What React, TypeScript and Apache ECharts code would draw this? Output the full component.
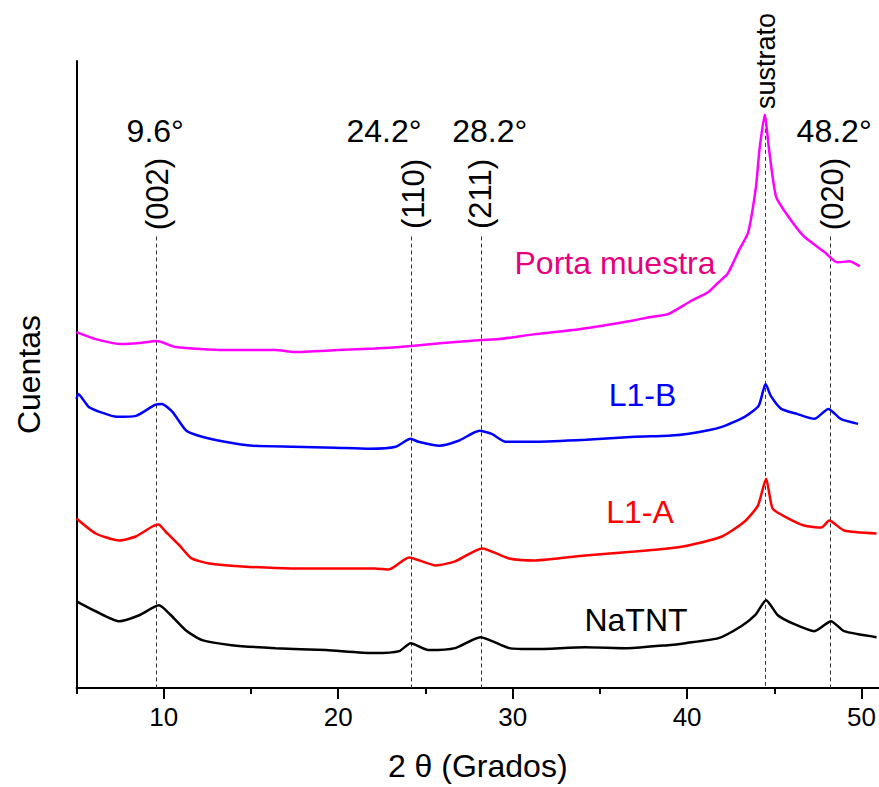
import React, { useEffect, useRef } from "react";
import * as echarts from "echarts";

// 2θ (degrees) vs counts (arbitrary, offset traces)
const portaMuestra: [number, number][] = [
  [5.0, 357], [6.1, 350], [7.6, 345], [8.6, 346], [9.6, 348], [10.7, 342], [13.5, 339],
  [16.4, 339], [17.5, 337], [20.0, 339], [22.1, 340.5], [24.2, 343], [26.0, 346],
  [28.2, 349], [29.2, 350], [31.3, 355], [33.8, 360], [37.0, 369], [37.8, 372],
  [38.9, 375], [40.2, 388], [41.2, 397], [41.8, 407], [42.3, 415], [42.6, 425],
  [43.0, 440], [43.5, 457], [43.95, 503], [44.15, 540], [44.45, 575], [44.7, 540],
  [45.1, 493], [45.8, 473], [46.7, 453], [47.9, 437], [48.6, 427], [49.3, 428], [49.9, 423],
];
const l1B: [number, number][] = [
  [5.0, 290], [5.1, 295], [5.7, 282], [6.5, 276], [7.3, 272], [8.4, 273], [9.5, 284],
  [9.9, 285], [10.5, 277], [11.3, 258], [12.2, 252], [13.5, 247], [15.1, 243],
  [17.4, 242], [19.8, 241], [21.8, 240], [23.3, 242], [24.15, 250], [24.6, 247],
  [25.8, 243], [26.9, 248], [28.1, 258], [28.8, 255], [29.6, 247], [31.3, 247],
  [34.2, 249], [37.0, 252], [38.9, 253], [40.1, 255], [42.0, 262], [43.3, 272],
  [44.1, 283], [44.5, 305], [44.8, 293], [45.4, 280], [46.3, 275], [47.3, 270],
  [48.1, 280], [48.8, 270], [49.8, 265],
];
const l1A: [number, number][] = [
  [5.0, 170], [6.1, 155], [7.45, 148], [8.4, 152], [9.35, 162], [9.7, 164], [10.1, 157],
  [10.9, 143], [11.6, 130], [12.6, 125], [14.5, 122], [17.35, 120], [22.1, 120],
  [22.9, 119], [24.06, 131], [25.6, 123], [26.7, 127], [28.25, 140], [29.8, 130],
  [31.3, 128], [34.15, 133], [37.0, 137], [38.9, 140], [40.06, 143], [42.0, 152],
  [43.3, 167], [44.06, 183], [44.53, 210], [44.9, 180], [45.6, 172], [46.7, 163],
  [47.7, 161], [48.15, 168], [49.0, 158], [50.86, 155],
];
const naTNT: [number, number][] = [
  [5.0, 87], [6.1, 77], [7.45, 67], [8.6, 73], [9.73, 83], [10.3, 75], [11.26, 58],
  [12.2, 48], [13.9, 43], [16.4, 40], [19.3, 38], [22.1, 35], [23.5, 37], [24.15, 45],
  [25.2, 38], [26.7, 40], [28.15, 51], [29.8, 40], [31.3, 39], [34.15, 41], [36.6, 40],
  [38.9, 43], [39.9, 45], [41.8, 50], [43.1, 62], [43.9, 73], [44.53, 88], [45.2, 73],
  [46.15, 64], [47.3, 57], [48.25, 67], [49.0, 57], [50.86, 51],
];

const seriesNames = ["Porta muestra", "L1-B", "L1-A", "NaTNT"];
const seriesColors = ["#FF00FF", "#0000FF", "#FF0000", "#000000"];
const labelColors = ["#E6007E", "#0000FF", "#FF0000", "#000000"];

const peakAngles = [9.6, 24.2, 28.2, 48.2];
const peakAngleLabels = ["9.6°", "24.2°", "28.2°", "48.2°"];
const peakPlanes = ["(002)", "(110)", "(211)", "(020)"];
const substrateAngle = 44.5;
const substrateLabel = "sustrato";

const majorTicks = [10, 20, 30, 40, 50];
const minorTicks = [5, 15, 25, 35, 45];

const FONT = '"Liberation Sans", Arial, Helvetica, sans-serif';

export default function App() {
  const ref = useRef<HTMLDivElement>(null);
  useEffect(() => {
    const chart = echarts.init(ref.current!, null, { renderer: "svg" });
    const datasets = [portaMuestra, l1B, l1A, naTNT];
    const dashTop = 453;
    const substrateTop = 575;
    const series: any[] = datasets.map((d, i) => ({
      type: "line",
      name: seriesNames[i],
      data: d,
      symbol: "none",
      showSymbol: false,
      smooth: 0.2,
      xAxisIndex: 0,
      lineStyle: { color: seriesColors[i], width: 2.5 },
      itemStyle: { color: seriesColors[i] },
      z: 3,
    }));
    series[3].markLine = {
      silent: true,
      symbol: ["none", "none"],
      label: { show: false },
      lineStyle: { type: [4, 3], color: "#333", width: 1 },
      z: 1,
      data: [
        ...peakAngles.map((a) => [{ coord: [a, dashTop] }, { coord: [a, 0] }]),
        [{ coord: [substrateAngle, substrateTop] }, { coord: [substrateAngle, 0] }],
      ],
    };
    chart.setOption({
      animation: false,
      grid: { left: 76.5, top: 61, width: 805, bottom: 97 },
      xAxis: [
        {
          type: "value",
          min: 5,
          max: 51,
          name: "2 θ (Grados)",
          nameLocation: "middle",
          nameGap: 62,
          nameTextStyle: { fontSize: 32, fontFamily: FONT, color: "#000" },
          axisLine: { show: true, onZero: false, lineStyle: { color: "#000", width: 2 } },
          axisTick: { show: true, customValues: majorTicks, length: 11, lineStyle: { color: "#000", width: 2 } },
          axisLabel: { show: true, customValues: majorTicks, fontSize: 26, fontFamily: FONT, color: "#000", margin: 16 },
          splitLine: { show: false },
        },
        {
          type: "value",
          min: 5,
          max: 51,
          position: "bottom",
          axisLine: { show: false },
          axisTick: { show: true, customValues: minorTicks, length: 6, lineStyle: { color: "#000", width: 2 } },
          axisLabel: { show: false },
          splitLine: { show: false },
        },
      ],
      yAxis: {
        type: "value",
        min: 0,
        max: 629,
        name: "Cuentas",
        nameLocation: "middle",
        nameGap: 32,
        nameTextStyle: { fontSize: 32, fontFamily: FONT, color: "#000" },
        axisLine: { show: true, lineStyle: { color: "#000", width: 2 } },
        axisTick: { show: false },
        axisLabel: { show: false },
        splitLine: { show: false },
      },
      series,
    });

    const toX = (a: number) => (chart.convertToPixel({ gridIndex: 0 }, [a, 0]) as number[])[0];
    const angleOffsets = [-1.5, -27.5, 8.5, 4];
    const planeOffsets = [0.5, 2.5, -0.5, 2.5];
    const textStyle = (text: string, size: number, color = "#000") => ({
      text,
      fontSize: size,
      fontFamily: FONT,
      fill: color,
      align: "center",
      verticalAlign: "middle",
    });
    const graphics: any[] = [];
    peakAngles.forEach((a, i) => {
      const px = toX(a);
      graphics.push({ type: "text", x: px + angleOffsets[i], y: 131, style: textStyle(peakAngleLabels[i], 32) });
      graphics.push({ type: "text", x: px + planeOffsets[i], y: 194, rotation: Math.PI / 2, style: textStyle(peakPlanes[i], 31) });
    });
    graphics.push({ type: "text", x: toX(substrateAngle), y: 61, rotation: Math.PI / 2, style: textStyle(substrateLabel, 27) });
    const namePos = [[615, 263], [642.5, 395], [640, 512], [636, 620]];
    seriesNames.forEach((n, i) => {
      graphics.push({ type: "text", x: namePos[i][0], y: namePos[i][1], style: textStyle(n, 32, labelColors[i]) });
    });
    chart.setOption({ graphic: graphics });

    return () => chart.dispose();
  }, []);
  return <div ref={ref} style={{ position: "fixed", left: 0, top: 0, width: 879, height: 787, background: "#fff" }} />;
}
